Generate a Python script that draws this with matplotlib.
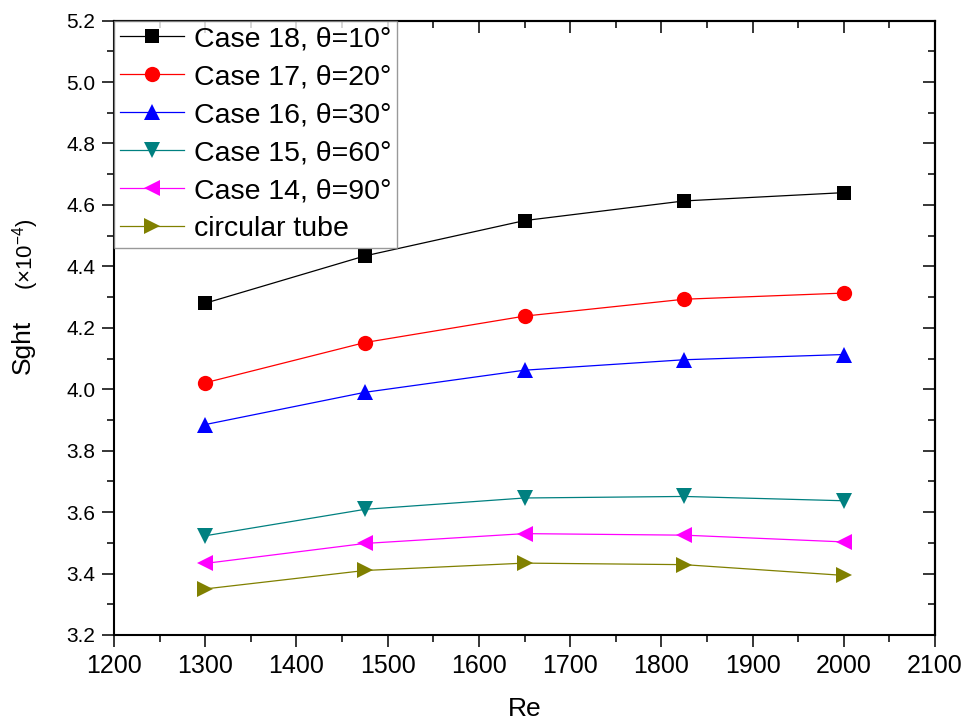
import matplotlib.pyplot as plt
from matplotlib.ticker import MultipleLocator

plt.rcParams['font.family'] = ['Liberation Sans', 'DejaVu Sans']
plt.rcParams['mathtext.fontset'] = 'custom'
plt.rcParams['mathtext.rm'] = 'Liberation Sans'

# Reynolds numbers and Sght values (x1e-4) for each case
re = [1300, 1475, 1650, 1825, 2000]
case18 = [4.280, 4.434, 4.549, 4.613, 4.640]
case17 = [4.021, 4.152, 4.238, 4.293, 4.313]
case16 = [3.885, 3.990, 4.062, 4.096, 4.113]
case15 = [3.523, 3.609, 3.646, 3.651, 3.637]
case14 = [3.433, 3.498, 3.530, 3.525, 3.503]
circular = [3.350, 3.410, 3.434, 3.429, 3.394]

labels = ['Case 18, θ=10°', 'Case 17, θ=20°', 'Case 16, θ=30°',
          'Case 15, θ=60°', 'Case 14, θ=90°', 'circular tube']
series = [case18, case17, case16, case15, case14, circular]
colors = ['#000000', '#FF0000', '#0000FF', '#008080', '#FF00FF', '#808000']
markers = ['s', 'o', '^', 'v', '<', '>']
msizes = [10, 11, 12, 12, 12, 12]

fig = plt.figure(figsize=(9.65, 7.24), dpi=100)
ax = fig.add_axes([114/965, 1-635/724, (935-114)/965, (635-20.6)/724])

for y, lab, c, m, ms in zip(series, labels, colors, markers, msizes):
    ax.plot(re, y, color=c, lw=0.9, marker=m, markersize=ms,
            markeredgewidth=0, label=lab)

ax.set_xlim(1200, 2100)
ax.set_ylim(3.2, 5.2)
ax.xaxis.set_major_locator(MultipleLocator(100))
ax.xaxis.set_minor_locator(MultipleLocator(50))
ax.yaxis.set_major_locator(MultipleLocator(0.2))
ax.yaxis.set_minor_locator(MultipleLocator(0.1))
ax.yaxis.set_major_formatter(plt.FormatStrFormatter('%.1f'))

for sp in ax.spines.values():
    sp.set_linewidth(1.5)

ax.tick_params(which='both', direction='out', width=1.1, labelsize=15, pad=5)
ax.tick_params(which='major', length=8.5)
ax.tick_params(which='minor', length=5)
# x tick labels are narrower and taller
for t in ax.get_xticklabels():
    t.set_fontfamily(['Liberation Sans Narrow', 'Liberation Sans'])
    t.set_fontsize(18)

# inward ticks on the top and right sides
ax2 = ax.secondary_xaxis('top')
ax2.xaxis.set_major_locator(MultipleLocator(100))
ax2.xaxis.set_minor_locator(MultipleLocator(50))
ax2.tick_params(which='both', direction='in', width=1.1, labeltop=False)
ax2.tick_params(which='major', length=8.5)
ax2.tick_params(which='minor', length=5)
ax2.spines['top'].set_linewidth(1.5)
ay2 = ax.secondary_yaxis('right')
ay2.yaxis.set_major_locator(MultipleLocator(0.2))
ay2.yaxis.set_minor_locator(MultipleLocator(0.1))
ay2.tick_params(which='both', direction='in', width=1.1, labelright=False)
ay2.tick_params(which='major', length=8.5)
ay2.tick_params(which='minor', length=5)
ay2.spines['right'].set_linewidth(1.5)

ax.set_xlabel('Re', fontsize=19, labelpad=14)
fig.text(23/965, 1-347/724, 'Sght', rotation=90, fontsize=19,
         ha='center', va='center')
fig.text(26/965, 1-254/724, r'$\mathregular{(\times10^{-4})}$', rotation=90,
         fontsize=16, ha='center', va='center')

leg = ax.legend(loc='upper left', bbox_to_anchor=(0, 1), borderaxespad=0,
                fontsize=20.5, frameon=True, fancybox=False, handlelength=2.25,
                handletextpad=0.35, labelspacing=0.42, borderpad=0.2)
leg.get_frame().set_edgecolor('#808080')
leg.get_frame().set_linewidth(1.0)

fig.savefig('out.png', dpi=100)
